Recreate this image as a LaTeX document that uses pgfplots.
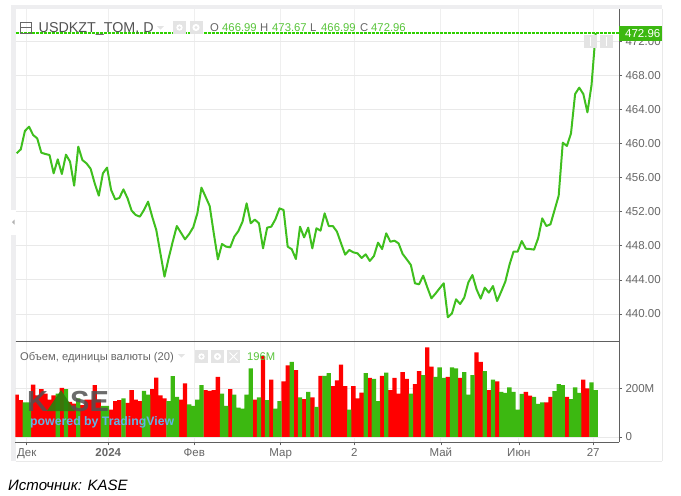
\documentclass[border=0pt]{standalone}
\usepackage{fontspec}
\setmainfont{Liberation Sans}
\usepackage{pgfplots}
\pgfplotsset{compat=1.18}
\usepackage{pgfplotstable}

\definecolor{upgreen}{HTML}{3CB811}
\definecolor{linegreen}{HTML}{3FBF1E}
\definecolor{dotgreen}{HTML}{2FD000}
\definecolor{txtgreen}{HTML}{58C43A}
\definecolor{txtgrey}{HTML}{666666}
\definecolor{gridc}{HTML}{E9E9E9}
\definecolor{gridv}{HTML}{EFEFEF}
\definecolor{spine}{HTML}{606060}
\definecolor{band}{HTML}{EEEEF0}
\definecolor{iconc}{HTML}{E4E4E4}
\definecolor{tvblue}{HTML}{62B4E6}

\newcommand{\fs}[1]{\fontsize{#1}{#1}\selectfont}

% volumes, millions
\pgfplotstableread{
i v
0 175
1 152
4 216
5 172
6 197
7 179
8 154
9 172
11 203
13 145
14 138
16 131
17 154
18 154
19 214
20 154
23 113
24 148
25 152
27 141
28 193
29 154
30 148
33 197
34 245
35 172
36 159
40 154
41 221
46 193
47 190
48 193
49 248
52 197
58 154
60 334
62 237
65 229
66 295
68 276
70 156
72 163
74 252
77 210
78 234
79 299
80 210
82 210
83 159
84 183
86 244
89 252
91 193
92 244
93 179
94 268
95 240
97 218
98 272
100 370
101 290
105 248
108 244
112 349
113 310
115 193
117 229
124 186
125 171
129 143
130 165
134 165
138 237
139 201
}\volred
\pgfplotstableread{
i v
2 143
3 143
10 179
12 197
15 159
21 128
22 128
26 159
31 190
32 175
37 148
38 251
39 165
42 135
43 128
44 154
45 214
50 179
51 128
53 175
54 121
55 117
56 175
57 283
59 163
61 152
63 117
64 148
67 310
69 163
71 186
73 124
75 252
76 263
81 113
85 263
87 240
88 148
90 266
96 179
99 255
102 248
103 287
104 244
106 287
107 283
109 268
110 175
111 255
114 272
116 237
118 186
119 182
120 205
121 186
122 113
123 178
126 165
127 137
128 143
131 189
132 218
133 214
135 156
136 205
137 182
140 225
141 193
}\volgreen

\pgfplotsset{
  panel/.style={
    scale only axis, width=603.5pt,
    xmin=-0.29, xmax=146.69,
    axis x line*=bottom, axis y line*=right,
    axis line style={spine,-},
    xtick={2.44,22.3,43.25,64.3,82.2,103.3,122.3,140.4},
    grid=major,
    y grid style={gridc,line width=0.8pt},
    x grid style={gridv,line width=0.9pt},
    tick style={spine,line width=0.6pt},
    major tick length=3pt,
    tick align=outside,
    tick label style={text=txtgrey,font=\fs{11.5}},
    x tick label style={anchor=base,text height=8.5pt,text depth=2pt,yshift=-11.5pt},
    /pgf/number format/assume math mode=true,
  },
}

\begin{document}
\begin{tikzpicture}[x=1pt,y=-1pt]
\path[use as bounding box] (0,0) rectangle (681,496);

% widget frame
\fill[band] (11,5) rectangle (662,9);
\fill[band] (11,5) rectangle (15.5,461);
\fill[white] (11,210) rectangle (15.5,235);
\fill[gray!60] (12,222) -- (14.5,219.5) -- (14.5,224.5) -- cycle;
\draw[gridc,line width=0.7pt] (662,9) -- (662,461);
\draw[gridc,line width=0.7pt] (15.5,461) -- (662,461);

% price panel
\begin{axis}[panel, at={(15.5pt,-341pt)}, anchor=south west, height=332pt,
  ymin=436.83, ymax=475.78,
  xticklabels={}, x tick style={draw=none},
  ytick={440,444,448,452,456,460,464,468,472},
  yticklabel style={/pgf/number format/fixed,/pgf/number format/fixed zerofill,/pgf/number format/precision=2,/pgf/number format/1000 sep={}},
  clip=false]
\addplot[draw=dotgreen,line width=1.3pt,dash pattern=on 3pt off 1pt,forget plot] coordinates {(-0.29,472.96) (146.69,472.96)};
\addplot[linegreen,line width=2pt,line join=round] coordinates {
(0,458.85) (1,459.32) (2,461.47) (3,461.97) (4,461.0) (5,460.6) (6,458.92) (7,458.77) (8,458.65) (9,456.5)
(10,458.14) (11,456.42) (12,458.69) (13,457.87) (14,455.05) (15,459.63) (16,458.06) (17,457.67) (18,457.05) (19,455.33)
(20,453.88) (21,456.5) (22,457.17) (23,454.55) (24,453.45) (25,453.61) (26,454.62) (27,453.57) (28,452.12) (29,451.61)
(30,451.42) (31,452.2) (32,453.18) (33,451.42) (34,449.85) (35,447.12) (36,444.38) (37,446.53) (38,448.48) (39,450.32)
(40,449.54) (41,448.76) (42,449.38) (43,450.17) (44,451.81) (45,454.82) (46,453.76) (47,452.67) (48,449.46) (49,446.41)
(50,448.21) (51,447.9) (52,447.82) (53,449.07) (54,449.74) (55,450.83) (56,452.98) (57,450.64) (58,451.07) (59,450.64)
(60,447.7) (61,450.13) (62,450.24) (63,451.1) (64,452.39) (65,452.2) (66,447.9) (67,447.59) (68,446.45) (69,450.24)
(70,448.99) (71,450.13) (72,447.7) (73,450.05) (74,449.78) (75,451.81) (76,450.32) (77,450.32) (78,449.66) (79,448.29)
(80,446.96) (81,447.51) (82,447.23) (83,447.12) (84,446.57) (85,447.0) (86,446.22) (87,446.8) (88,448.37) (89,447.62)
(90,449.46) (91,448.48) (92,448.6) (93,448.29) (94,447.04) (95,446.41) (96,445.75) (97,443.6) (98,443.48) (99,444.5)
(100,443.13) (101,441.84) (102,442.39) (103,443.01) (104,443.6) (105,439.61) (106,440.06) (107,441.72) (108,441.17) (109,441.92)
(110,443.71) (111,444.57) (112,442.89) (113,441.8) (114,443.09) (115,442.5) (116,443.28) (117,441.52) (118,442.62) (119,443.79)
(120,445.75) (121,447.31) (122,447.31) (123,448.56) (124,447.66) (125,447.62) (126,447.55) (127,448.88) (128,451.22) (129,450.32)
(130,450.52) (131,452.2) (132,453.88) (133,460.1) (134,459.71) (135,461.19) (136,465.81) (137,466.55) (138,465.81) (139,463.66)
(140,466.86) (141,472.96)};
\end{axis}

% volume panel
\begin{axis}[panel, at={(15.5pt,-442.3pt)}, anchor=south west, height=101.3pt,
  ymin=-22, ymax=396,
  xticklabels={Дек,\textbf{2024},Фев,Мар,2,Май,Июн,27},
  ytick={0,200}, yticklabels={0,200M}]
\addplot[ybar,bar width=1.06,bar shift=0pt,fill=red,draw=none] table[x=i,y=v] {\volred};
\addplot[ybar,bar width=1.06,bar shift=0pt,fill=upgreen,draw=none] table[x=i,y=v] {\volgreen};
\end{axis}
\draw[spine,line width=0.8pt] (15.5,341) -- (619.3,341);

% last price tag
\fill[upgreen] (619,25.5) rectangle (661.5,40.5);
\node[anchor=west,inner sep=0,text=white,font=\fs{11.5}] at (625,33.3) {472.96};

% legend of the price panel
\draw[txtgrey,line width=0.8pt] (20.5,22) rectangle (31.5,33);
\draw[txtgrey,line width=0.8pt] (20.5,27.5) -- (31.5,27.5);
\node[anchor=base west,inner sep=0,text=black!68,font=\fs{14.3}] at (38.5,32.5) {USDKZT\_TOM, D};
\fill[iconc] (157,26) -- (164,26) -- (160.5,29.5) -- cycle;
\fill[iconc] (173,21) rectangle (186,34);
\fill[iconc] (189.5,21) rectangle (202.5,34);
\fill[white] (179.5,27.5) circle (3.2);
\fill[iconc] (179.5,27.5) circle (1.5);
\fill[white] (196,27.5) circle (3.6);
\fill[iconc] (196,27.5) circle (1.6);
\node[anchor=base west,inner sep=0,text=txtgrey,font=\fs{11.3}] at (210,31.5) {O};
\node[anchor=base west,inner sep=0,text=txtgreen,font=\fs{11.3}] at (222,31.5) {466.99};
\node[anchor=base west,inner sep=0,text=txtgrey,font=\fs{11.3}] at (260,31.5) {H};
\node[anchor=base west,inner sep=0,text=txtgreen,font=\fs{11.3}] at (272,31.5) {473.67};
\node[anchor=base west,inner sep=0,text=txtgrey,font=\fs{11.3}] at (310,31.5) {L};
\node[anchor=base west,inner sep=0,text=txtgreen,font=\fs{11.3}] at (321,31.5) {466.99};
\node[anchor=base west,inner sep=0,text=txtgrey,font=\fs{11.3}] at (360,31.5) {C};
\node[anchor=base west,inner sep=0,text=txtgreen,font=\fs{11.3}] at (371,31.5) {472.96};

% scale buttons
\fill[iconc] (584,35) rectangle (596.5,48);
\fill[iconc] (600,35) rectangle (613,48);
\draw[white,line width=1pt] (590.2,37) -- (590.2,46);
\draw[white,line width=1pt] (606.5,37) -- (606.5,46);

% legend of the volume panel
\node[anchor=base west,inner sep=0,text=txtgrey,font=\fs{11.2}] at (20,360) {Объем, единицы валюты (20)};
\fill[iconc] (178,354) -- (185,354) -- (181.5,357.5) -- cycle;
\fill[iconc] (195,350) rectangle (208,363);
\fill[iconc] (211,350) rectangle (224,363);
\fill[iconc] (227,350) rectangle (240,363);
\fill[white] (201.5,356.5) circle (3.2);
\fill[iconc] (201.5,356.5) circle (1.5);
\fill[white] (217.5,356.5) circle (3.6);
\fill[iconc] (217.5,356.5) circle (1.6);
\draw[white,line width=1pt] (229.5,352.5) -- (237.5,360.5) (229.5,360.5) -- (237.5,352.5);
\node[anchor=base west,inner sep=0,text=txtgreen,font=\fs{11.2}] at (247,360) {196M};

% watermark
\node[anchor=base west,inner sep=0,text=black!68,opacity=0.85,font=\fs{29}\bfseries] at (27,411) {K};
\fill[upgreen!70!black,opacity=0.9] (47,411) -- (61,390) -- (75,411) -- cycle;
\node[anchor=base west,inner sep=0,text=black!68,opacity=0.85,font=\fs{29}\bfseries] at (70,411) {SE};
\node[anchor=base west,inner sep=0,text=tvblue,font=\fs{12.3}\bfseries] at (30,425) {powered by TradingView};

\node[anchor=base west,inner sep=0,text=black,font=\fs{15}\itshape] at (8,490) {Источник: KASE};
\end{tikzpicture}
\end{document}
